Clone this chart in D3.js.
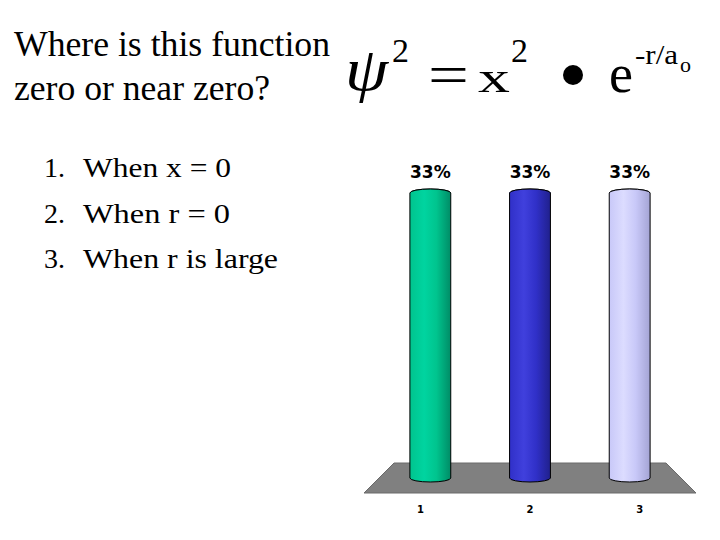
<!DOCTYPE html>
<html><head><meta charset="utf-8">
<script src="https://cdn.jsdelivr.net/npm/d3@7"></script>
<style>body{margin:0;background:#fff}svg{display:block}</style>
</head><body>
<svg id="c" width="720" height="540"></svg>
<script>
const categories = ["1", "2", "3"];
const values = [33, 33, 33];
const valueLabels = ["33%", "33%", "33%"];
const titleLines = ["Where is this function", "zero or near zero?"];
const choices = ["When x = 0", "When r = 0", "When r is large"];
const colors = [
  ["#00d4a0", "#00c48e", "#008c66"],
  ["#4040dd", "#3030c8", "#20208c"],
  ["#dcdcff", "#c8c8f8", "#a4a4d4"]
];

const svg = d3.select("#c");
const serif = "'Liberation Serif','Times New Roman',serif";

// title
const titleW = [316, 256];
svg.selectAll("text.title").data(titleLines).join("text").attr("class", "title")
  .attr("x", 14).attr("y", (d,i) => 56 + i*44)
  .attr("font-family", serif).attr("font-size", 35).attr("fill", "#000")
  .attr("textLength", (d,i) => titleW[i]).attr("lengthAdjust", "spacingAndGlyphs")
  .text(d => d);

// list
const listW = [148, 147, 195];
const lg = svg.append("g").attr("font-family", serif).attr("font-size", 28);
choices.forEach((c,i) => {
  const yy = 177 + i*45.5;
  lg.append("text").attr("x", 44).attr("y", yy).text((i+1)+".");
  lg.append("text").attr("x", 83).attr("y", yy).attr("textLength", listW[i]).attr("lengthAdjust", "spacingAndGlyphs").text(c);
});

// formula
const f = svg.append("g").attr("font-family", serif).attr("fill", "#000");
f.append("text").attr("transform", "translate(345,90) scale(1.12,1)").attr("font-size", 62).attr("font-style", "italic").text("ψ");
f.append("text").attr("x", 392).attr("y", 62).attr("font-size", 34).text("2");
f.append("text").attr("transform", "translate(428,94) scale(1.25,1)").attr("font-size", 58).text("=");
f.append("text").attr("transform", "translate(478,92) scale(1.45,1)").attr("font-size", 44).text("x");
f.append("text").attr("x", 511).attr("y", 62).attr("font-size", 34).text("2");
f.append("circle").attr("cx", 573).attr("cy", 75).attr("r", 10);
f.append("text").attr("x", 609).attr("y", 92).attr("font-size", 54).text("e");
f.append("text").attr("x", 635).attr("y", 64).attr("font-size", 27)
  .attr("textLength", 43).attr("lengthAdjust", "spacingAndGlyphs").text("-r/a");
f.append("text").attr("x", 680).attr("y", 72).attr("font-size", 22).text("o");

// chart
const x = d3.scaleBand().domain(categories).range([380, 680]).paddingInner(0.59).paddingOuter(0.3);
const y = d3.scaleLinear().domain([0, 33]).range([478, 193]);
const mid = (x.range()[0] + x.range()[1]) / 2;

// floor
const fl = [[x.range()[0]+14, 463],[x.range()[1]-14, 463],[x.range()[1]+16, 493],[x.range()[0]-16, 493]];
svg.append("polygon").attr("points", fl.map(p=>p.join(",")).join(" "))
  .attr("fill", "#808080").attr("stroke", "#6a6a6a").attr("stroke-width", 1);

const defs = svg.append("defs");
colors.forEach((c,i) => {
  const g = defs.append("linearGradient").attr("id", "g"+i).attr("x1","0").attr("x2","1").attr("y1","0").attr("y2","0");
  g.append("stop").attr("offset", "0").attr("stop-color", c[1]);
  g.append("stop").attr("offset", "0.35").attr("stop-color", c[0]);
  g.append("stop").attr("offset", "0.65").attr("stop-color", c[1]);
  g.append("stop").attr("offset", "1").attr("stop-color", c[2]);
});

const ry = 4;
const bars = svg.selectAll("g.bar").data(values).join("g").attr("class", "bar");
bars.each(function(v,i){
  const g = d3.select(this);
  const x0 = x(categories[i]), w = x.bandwidth(), yt = y(v), yb = y(0);
  const rx = w/2, cx = x0 + w/2;
  const path = `M${x0},${yt} L${x0},${yb} A${rx},${ry} 0 0 0 ${x0+w},${yb} L${x0+w},${yt} A${rx},${ry} 0 0 0 ${x0},${yt} Z`;
  g.append("path").attr("d", path).attr("fill", `url(#g${i})`).attr("stroke", "#000").attr("stroke-width", 1);
  g.append("path").attr("d", `M${x0},${yt} A${rx},${ry} 0 0 1 ${x0+w},${yt}`)
    .attr("fill", `url(#g${i})`).attr("stroke", "#000").attr("stroke-width", 1);
  g.append("text").attr("x", cx).attr("y", 178).attr("text-anchor", "middle")
    .attr("font-family", "Verdana,'DejaVu Sans',sans-serif").attr("font-weight", "bold").attr("font-size", 17)
    .text(valueLabels[i]);
  g.append("text").attr("x", cx + (cx - mid) * 0.1).attr("y", 513).attr("text-anchor", "middle")
    .attr("font-family", "Verdana,'DejaVu Sans',sans-serif").attr("font-weight", "bold").attr("font-size", 10)
    .text(categories[i]);
});
</script>
</body></html>
